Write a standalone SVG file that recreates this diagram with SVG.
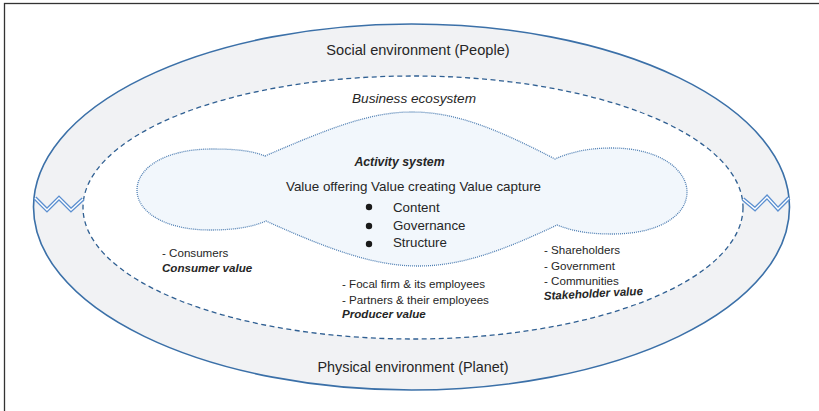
<svg xmlns="http://www.w3.org/2000/svg" width="819" height="411" viewBox="0 0 819 411">
<style>
.t{font-family:"Liberation Sans",Arial,sans-serif;fill:#262626}
.s{font-size:11.6px}
.bi{font-weight:bold;font-style:italic}
.i{font-style:italic}
.zz{fill:none;stroke:#5b8fd0;stroke-width:4;stroke-linejoin:miter}
.zzi{fill:none;stroke:#ffffff;stroke-width:1.4;stroke-linejoin:miter}
</style>
<rect width="819" height="411" fill="#ffffff"/>
<rect x="4.5" y="3.5" width="840" height="430" fill="none" stroke="#333333" stroke-width="1.3"/>
<g id="social-environment">
<ellipse cx="411.5" cy="207" rx="378" ry="183" fill="#f1f2f4" stroke="#3b70a8" stroke-width="1.6"/>
<text class="t" x="418" y="55" font-size="14.6" text-anchor="middle">Social environment (People)</text>
<text class="t" x="413" y="372" font-size="14.4" text-anchor="middle">Physical environment (Planet)</text>
</g>
<g id="business-ecosystem">
<ellipse cx="413" cy="207.5" rx="330" ry="131.5" fill="#ffffff" stroke="#2f5f92" stroke-width="1.3" stroke-dasharray="5 3.5"/>
<text class="t i" x="414" y="103" font-size="13.6" text-anchor="middle">Business ecosystem</text>
</g>
<g id="zigzags">
<polyline class="zz" points="35,198 47,210 59,198 71,210 83,199"/>
<polyline class="zzi" points="35,198 47,210 59,198 71,210 83,199"/>
<polyline class="zz" points="743,199 755,209 767,197 778,209 789,198"/>
<polyline class="zzi" points="743,199 755,209 767,197 778,209 789,198"/>
</g>
<g id="activity-system">
<path d="M265,156 C330,128 370,112 412,112 C455,112 495,128 555,159 C575,150 595,148 612,148 C660,148 687,170 687,192 C687,215 660,234 612,234 C592,234 575,232 557,225 C500,252 460,266 418,266 C375,266 330,250 266,221 C250,228 230,230 210,230 C165,230 137,212 137,190 C137,168 165,149 212,149 C232,149 250,150 265,156 Z" fill="#f2f7fc" stroke="#4f7fb3" stroke-width="1.3" stroke-dasharray="1 1"/>
<text class="t bi" x="399.5" y="166" font-size="12.3" text-anchor="middle">Activity system</text>
<text class="t" x="413.5" y="191" font-size="13.4" text-anchor="middle">Value offering Value creating Value capture</text>
<circle cx="369" cy="207" r="3.2" fill="#1a1a1a"/>
<circle cx="369" cy="226" r="3.2" fill="#1a1a1a"/>
<circle cx="369" cy="244" r="3.2" fill="#1a1a1a"/>
<text class="t" x="393" y="212" font-size="13.3">Content</text>
<text class="t" x="393" y="230" font-size="13.3">Governance</text>
<text class="t" x="393" y="247" font-size="13.3">Structure</text>
</g>
<g id="consumer">
<text class="t s" x="162" y="257">- Consumers</text>
<text class="t s bi" x="162" y="272">Consumer value</text>
</g>
<g id="producer">
<text class="t s" x="342" y="288">- Focal firm &amp; its employees</text>
<text class="t s" x="342" y="304">- Partners &amp; their employees</text>
<text class="t s bi" x="342" y="318">Producer value</text>
</g>
<g id="stakeholder">
<text class="t s" x="544" y="254">- Shareholders</text>
<text class="t s" x="544" y="270">- Government</text>
<text class="t s" x="544" y="285">- Communities</text>
<text class="t s bi" x="544" y="300" transform="rotate(-3 544 300)">Stakeholder value</text>
</g>
</svg>
